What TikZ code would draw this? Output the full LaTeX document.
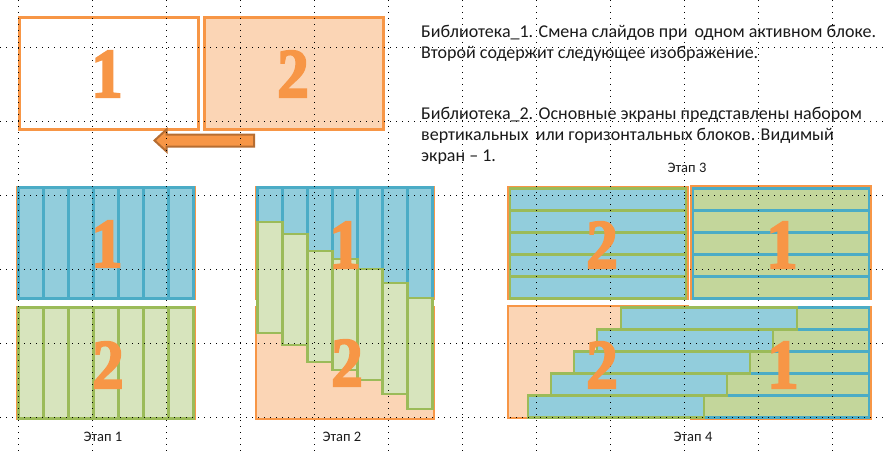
\documentclass[tikz,border=0pt]{standalone}
\usepackage{fontspec}
\newfontfamily\calfont{Carlito}
\newfontfamily\digfont{Liberation Serif}[FakeBold=3]
\definecolor{orB}{HTML}{F79646}
\definecolor{orD}{HTML}{B66D31}
\definecolor{peach}{HTML}{FBD5B5}
\definecolor{blF}{HTML}{92CDDC}
\definecolor{blB}{HTML}{4BACC6}
\definecolor{grF}{HTML}{D7E4BD}
\definecolor{grF2}{HTML}{C3D69B}
\definecolor{grB}{HTML}{9BBB59}
\definecolor{txt}{HTML}{1A1A1A}
\newcommand\bigdigit[4]{%
  \node[digit] (#1) at (#2,#3) {\scalebox{0.9}[1]{#4}};}
\begin{document}
\begin{tikzpicture}[x=1pt,y=-1pt,
  box/.style={draw=orB, line width=2.5pt},
  bstrip/.style={fill=blF, draw=blB, line width=2.5pt},
  gstrip/.style={fill=grF, draw=grB, line width=2.5pt},
  bgstrip/.style={fill=blF, draw=grB, line width=2.5pt},
  ggstrip/.style={fill=grF2, draw=blB, line width=2.5pt},
  gridline/.style={black, line width=0.9pt, dash pattern=on 0.9pt off 5.1pt},
  digit/.style={inner sep=0pt, text=orB, font=\digfont\bfseries\fontsize{70}{70}\selectfont},
  para/.style={inner sep=0pt, anchor=base west, text=txt, font=\calfont\fontsize{18}{21}\selectfont},
  lab/.style={inner sep=0pt, anchor=base, text=txt, font=\calfont\fontsize{14.5}{17}\selectfont}]
\useasboundingbox (0,0) rectangle (884,452);
\fill[white] (0,0) rectangle (884,452);

% ---- top slides
\draw[box, fill=white, line width=3pt] (19,18) rectangle (198,129);
\draw[box, fill=peach, line width=3pt] (204,18) rectangle (383,129);
\draw[fill=orB, draw=orD, line width=2pt, line join=miter]
  (154.5,140.5) -- (166.5,129.5) -- (166.5,134.5) -- (254,134.5) -- (254,146.5)
  -- (166.5,146.5) -- (166.5,151.5) -- cycle;

% ---- Etap 1
\draw[box] (17,187) rectangle (195,299);
\draw[box] (17,307) rectangle (195,419);
\foreach \i in {0,...,6}{
  \draw[bstrip] (18.5+25*\i,187.5) rectangle ++(25,111);
  \draw[gstrip] (18.5+25*\i,307.5) rectangle ++(25,111);
}

% ---- Etap 2
\draw[box, fill=peach] (256,307) rectangle (434,419);
\draw[box] (256,187) rectangle (434,299);
\foreach \i in {0,...,6}{
  \draw[bstrip] (257.5+25*\i,187.5) rectangle ++(25,111);
}
\foreach \i/\t in {0/222,1/234,2/251,3/259,4/269,5/283,6/298}{
  \draw[gstrip] (257.5+25*\i,\t) rectangle ++(25,111);
}

% ---- Etap 3
\draw[box] (508,187) rectangle (688,299);
\draw[box] (691,186) rectangle (871,299);
\foreach \i in {0,...,4}{
  \draw[bgstrip] (510,188.5+22*\i) rectangle ++(176,22);
  \draw[ggstrip] (693,188.5+22*\i) rectangle ++(176,22);
}

% ---- Etap 4
\draw[box, fill=peach] (508,306) rectangle (688,418);
\draw[box] (691,307) rectangle (871,419);
\foreach \i in {0,...,4}{
  \draw[ggstrip] (693,307.5+22*\i) rectangle ++(176,22);
}
\foreach \i/\xx in {0/621,1/597,2/574,3/551,4/528}{
  \draw[bgstrip] (\xx,307.5+22*\i) rectangle ++(176,22);
}

% ---- grid
\foreach \k in {0,...,11}{
  \draw[gridline] (18+74*\k,0) -- (18+74*\k,452);
}
\foreach \k in {0,...,5}{
  \draw[gridline] (0,47+74*\k) -- (884,47+74*\k);
}

% ---- digits
\bigdigit{a1}{107}{74}{1}
\bigdigit{a2}{293}{74}{2}
\bigdigit{b1}{107}{244}{1}
\bigdigit{b2}{108}{365}{2}
\bigdigit{c1}{345}{245}{1}
\bigdigit{c2}{347}{363}{2}
\bigdigit{e2}{602}{245}{2}
\bigdigit{e1}{782}{245}{1}
\bigdigit{f2}{602}{365}{2}
\bigdigit{f1}{783}{365}{1}

% ---- text
\node[para] (t1) at (421,38) {Библиотека\_1. Смена слайдов при\hspace{3pt} одном активном блоке.};
\node[para] (t2) at (421,59) {Второй содержит следующее изображение.};
\node[para] (t3) at (421,119) {Библиотека\_2. Основные экраны представлены набором};
\node[para] (t4) at (421,140) {вертикальных\hspace{3pt} или горизонтальных блоков. Видимый};
\node[para] (t5) at (421,161) {экран – 1.};

\node[lab] (l1) at (103,441.5) {Этап 1};
\node[lab] (l2) at (342,441.5) {Этап 2};
\node[lab] (l3) at (687,172.5) {Этап 3};
\node[lab] (l4) at (693,441.5) {Этап 4};
\end{tikzpicture}
\end{document}
